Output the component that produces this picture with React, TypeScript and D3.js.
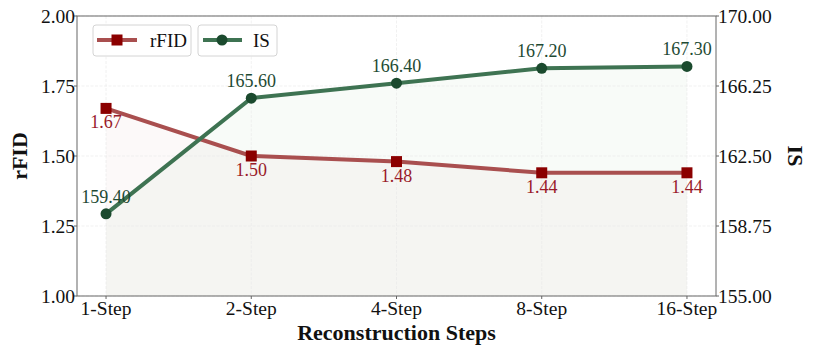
import React from "react";
import * as d3 from "d3";

const categories = ["1-Step", "2-Step", "4-Step", "8-Step", "16-Step"];
const rfidValues = [1.67, 1.5, 1.48, 1.44, 1.44];
const isValues = [159.4, 165.6, 166.4, 167.2, 167.3];
const leftTicks = [1.0, 1.25, 1.5, 1.75, 2.0];
const rightTicks = [155.0, 158.75, 162.5, 166.25, 170.0];

const W = 820;
const H = 355;
const M = { left: 77, right: 716, top: 16, bottom: 296 };
const SERIF = "'Liberation Serif', 'Times New Roman', serif";
const RED_LINE = "#a94f4f";
const RED_MARK = "#8b0000";
const RED_TEXT = "#9a1b2a";
const GREEN_LINE = "#3e7352";
const GREEN_MARK = "#1b4a2e";
const GREEN_TEXT = "#1e4a33";

export default function App() {
  const x = d3.scaleLinear().domain([-0.2, 4.2]).range([M.left, M.right]);
  const yL = d3.scaleLinear().domain([1.0, 2.0]).range([M.bottom, M.top]);
  const yR = d3.scaleLinear().domain([155, 170]).range([M.bottom, M.top]);

  const lineL = d3.line<number>().x((_, i) => x(i)).y((d) => yL(d));
  const lineR = d3.line<number>().x((_, i) => x(i)).y((d) => yR(d));
  const areaL = d3.area<number>().x((_, i) => x(i)).y0(M.bottom).y1((d) => yL(d));
  const areaR = d3.area<number>().x((_, i) => x(i)).y0(M.bottom).y1((d) => yR(d));

  return (
    <svg width={W} height={H} style={{ position: "absolute", left: 0, top: 0, background: "#fff" }}>
      {/* fills */}
      <path d={areaL(rfidValues)!} fill="#b06060" fillOpacity={0.035} />
      <path d={areaR(isValues)!} fill="#5a9a5a" fillOpacity={0.045} />
      {/* grid */}
      {leftTicks.map((t) => (
        <line key={"gy" + t} x1={M.left} x2={M.right} y1={yL(t)} y2={yL(t)} stroke="#e8e8e8" strokeWidth={0.6} strokeDasharray="3,1.5" />
      ))}
      {categories.map((c, i) => (
        <line key={"gx" + c} x1={x(i)} x2={x(i)} y1={M.top} y2={M.bottom} stroke="#e8e8e8" strokeWidth={0.6} strokeDasharray="3,1.5" />
      ))}
      {/* lines */}
      <path d={lineL(rfidValues)!} fill="none" stroke={RED_LINE} strokeWidth={4} />
      <path d={lineR(isValues)!} fill="none" stroke={GREEN_LINE} strokeWidth={4} />
      {rfidValues.map((v, i) => (
        <rect key={"rm" + i} x={x(i) - 5.5} y={yL(v) - 5.5} width={11} height={11} fill={RED_MARK} />
      ))}
      {isValues.map((v, i) => (
        <circle key={"im" + i} cx={x(i)} cy={yR(v)} r={5.5} fill={GREEN_MARK} />
      ))}
      {/* data labels */}
      {rfidValues.map((v, i) => (
        <text key={"rl" + i} x={x(i)} y={yL(v) + 20} textAnchor="middle" fontFamily={SERIF} fontSize={18} fill={RED_TEXT}>
          {v.toFixed(2)}
        </text>
      ))}
      {isValues.map((v, i) => (
        <text key={"il" + i} x={x(i)} y={yR(v) - 11} textAnchor="middle" fontFamily={SERIF} fontSize={18} fill={GREEN_TEXT}>
          {v.toFixed(2)}
        </text>
      ))}
      {/* frame */}
      <rect x={M.left} y={M.top} width={M.right - M.left} height={M.bottom - M.top} fill="none" stroke="#666" strokeWidth={1} />
      {/* left ticks */}
      {leftTicks.map((t) => (
        <g key={"lt" + t}>
          <line x1={M.left - 3} x2={M.left} y1={yL(t)} y2={yL(t)} stroke="#666" />
          <text x={M.left - 2} y={yL(t) + 6.5} textAnchor="end" fontFamily={SERIF} fontSize={19.5} fill="#111">
            {t.toFixed(2)}
          </text>
        </g>
      ))}
      {rightTicks.map((t) => (
        <g key={"rt" + t}>
          <line x1={M.right} x2={M.right + 3} y1={yR(t)} y2={yR(t)} stroke="#666" />
          <text x={M.right + 2} y={yR(t) + 6.5} textAnchor="start" fontFamily={SERIF} fontSize={19.5} fill="#111">
            {t.toFixed(2)}
          </text>
        </g>
      ))}
      {categories.map((c, i) => (
        <g key={"xt" + c}>
          <line x1={x(i)} x2={x(i)} y1={M.bottom} y2={M.bottom + 3} stroke="#666" />
          <text x={x(i)} y={M.bottom + 19} textAnchor="middle" fontFamily={SERIF} fontSize={19.5} fill="#111">
            {c}
          </text>
        </g>
      ))}
      {/* axis titles */}
      <text x={(M.left + M.right) / 2} y={340} textAnchor="middle" fontFamily={SERIF} fontWeight="bold" fontSize={22} fill="#111">
        Reconstruction Steps
      </text>
      <text transform={`translate(27,${(M.top + M.bottom) / 2}) rotate(-90)`} textAnchor="middle" fontFamily={SERIF} fontWeight="bold" fontSize={22} fill="#111">
        rFID
      </text>
      <text transform={`translate(788,${(M.top + M.bottom) / 2}) rotate(90)`} textAnchor="middle" fontFamily={SERIF} fontWeight="bold" fontSize={22} fill="#111">
        IS
      </text>
      {/* legends */}
      <g>
        <rect x={93} y={25} width={98} height={31} rx={3} fill="#fff" fillOpacity={0.8} stroke="#d4d4d4" />
        <line x1={97} x2={137} y1={40} y2={40} stroke={RED_LINE} strokeWidth={4} />
        <rect x={117 - 5.5} y={40 - 5.5} width={11} height={11} fill={RED_MARK} />
        <text x={150} y={46.5} fontFamily={SERIF} fontSize={19} fill="#111">rFID</text>
      </g>
      <g>
        <rect x={198} y={25} width={79} height={31} rx={3} fill="#fff" fillOpacity={0.8} stroke="#d4d4d4" />
        <line x1={203} x2={242} y1={40} y2={40} stroke={GREEN_LINE} strokeWidth={4} />
        <circle cx={222} cy={40} r={5.5} fill={GREEN_MARK} />
        <text x={253} y={46.5} fontFamily={SERIF} fontSize={19} fill="#111">IS</text>
      </g>
    </svg>
  );
}
